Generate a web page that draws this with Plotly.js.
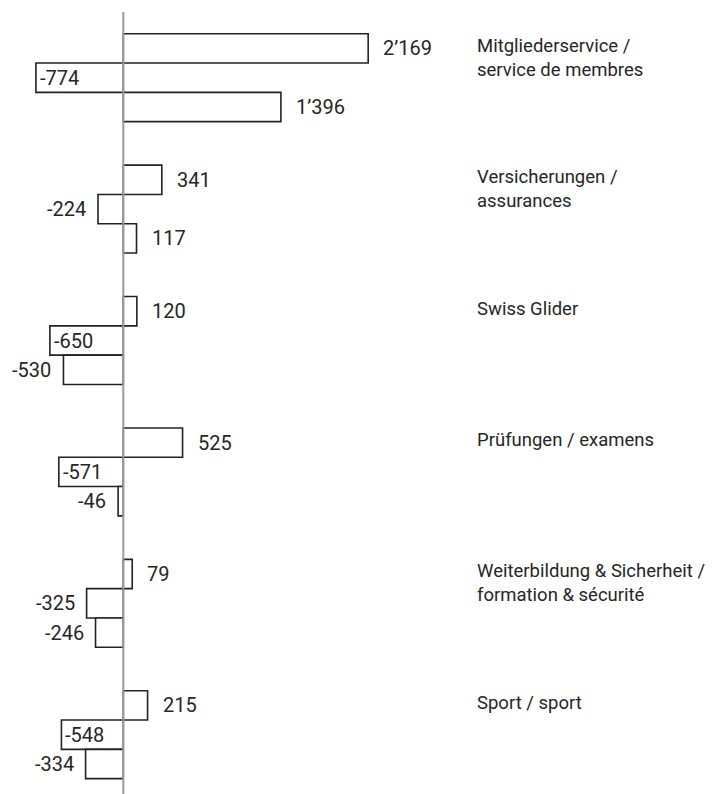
<!DOCTYPE html>
<html>
<head>
<meta charset="utf-8">
<script src="https://cdn.plot.ly/plotly-3.0.1.min.js"></script>
<style>
  html, body { margin: 0; padding: 0; background: #fff; }
  #chart { width: 719px; height: 794px; }
</style>
</head>
<body>
<div id="chart"></div>
<script>
// ---- data ----
const categories = [
  "Mitgliederservice / service de membres",
  "Versicherungen / assurances",
  "Swiss Glider",
  "Prüfungen / examens",
  "Weiterbildung & Sicherheit / formation & sécurité",
  "Sport / sport"
];
const categoryLabels = [
  "Mitgliederservice /<br>service de membres",
  "Versicherungen /<br>assurances",
  "Swiss Glider",
  "Prüfungen / examens",
  "Weiterbildung & Sicherheit /<br>formation & sécurité",
  "Sport / sport"
];
const ertrag   = [2169, 341, 120, 525, 79, 215];
const aufwand  = [-774, -224, -650, -571, -325, -548];
const ergebnis = [1396, 117, -530, -46, -246, -334];

// ---- style ----
const series = [ertrag, aufwand, ergebnis];
const textColor = "#262626";
const numFont = { family: "Roboto", size: 20, color: textColor };
const catFont = { family: "Roboto", size: 18.5, color: textColor };
const pxPerUnit = 0.1129;
const zeroPx = 123.3;
const W = 719, H = 794, TOP = 12;
const slotPx = 131.4;
const barPx = 29.3;

function fmt(v) {
  const s = Math.abs(v).toString().replace(/\B(?=(\d{3})+(?!\d))/g, "\u2019");
  return (v < 0 ? "-" : "") + s;
}

const traces = series.map((vals, i) => ({
  type: "bar",
  orientation: "h",
  y: categories,
  x: vals,
  marker: { color: "#ffffff", line: { color: "#222222", width: 1.6 } },
  hoverinfo: "skip",
  showlegend: false
}));

const annotations = [];
series.forEach((vals, si) => {
  vals.forEach((v, ci) => {
    const a = {
      xref: "x", yref: "y", x: v, y: categories[ci],
      text: fmt(v), showarrow: false, font: numFont,
      yshift: (1 - si) * barPx, borderpad: 0, yanchor: "middle"
    };
    if (v >= 0) { a.xanchor = "left"; a.xshift = 14; }
    else if (si === 1 && v <= -500) { a.xanchor = "left"; a.xshift = 3; }
    else { a.xanchor = "right"; a.xshift = -11; }
    annotations.push(a);
  });
});
categories.forEach((c, ci) => {
  annotations.push({
    xref: "paper", yref: "y", x: 476 / W, y: c,
    text: categoryLabels[ci], showarrow: false, font: catFont,
    xanchor: "left", yanchor: "top", align: "left",
    yshift: 44, borderpad: 0
  });
});

const span = (H - TOP) / slotPx;
const layout = {
  width: W, height: H,
  margin: { l: 0, r: 0, t: TOP, b: 0, pad: 0 },
  paper_bgcolor: "#ffffff", plot_bgcolor: "#ffffff",
  barmode: "group", bargap: 1 - 3 * barPx / slotPx, bargroupgap: 0,
  xaxis: {
    range: [-zeroPx / pxPerUnit, (W - zeroPx) / pxPerUnit],
    showgrid: false, zeroline: false, showticklabels: false, ticks: "", showline: false
  },
  yaxis: {
    type: "category", categoryorder: "array", categoryarray: categories,
    range: [span - 0.5, -0.5],
    showgrid: false, zeroline: false, showticklabels: false, ticks: "", showline: false
  },
  shapes: [{
    type: "line", layer: "above", xref: "x", yref: "paper",
    x0: 0, x1: 0, y0: 0, y1: 1,
    line: { color: "#9a9a9a", width: 2 }
  }],
  annotations: annotations
};

Plotly.newPlot("chart", traces, layout, { staticPlot: true, displayModeBar: false });
</script>
</body>
</html>
